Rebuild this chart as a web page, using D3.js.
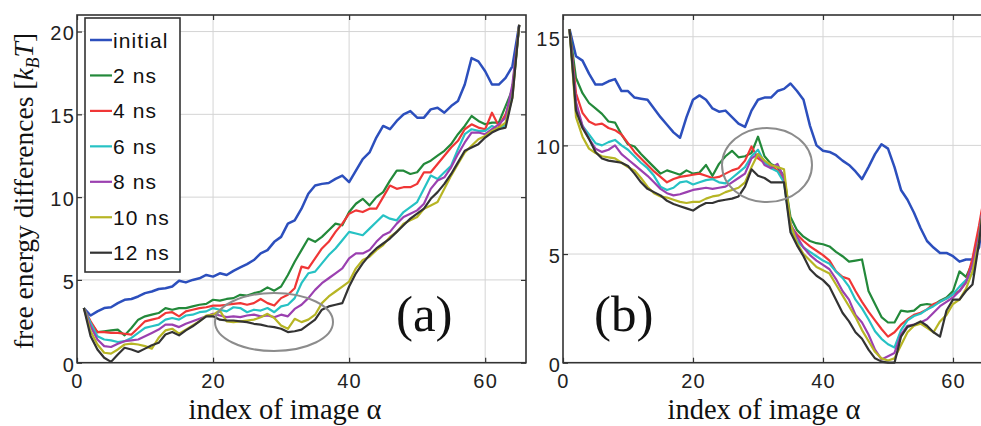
<!DOCTYPE html>
<html>
<head>
<meta charset="utf-8">
<script src="https://cdn.jsdelivr.net/npm/d3@7"></script>
<style>
  html, body { margin: 0; padding: 0; background: #fff; }
  svg { display: block; }
</style>
</head>
<body>
<svg id="chart" width="981" height="426"></svg>
<script>
// ---------------- DATA ----------------
const imageIndex = d3.range(1, 66); // image α = 1..65

const seriesNames = ["initial", "2 ns", "4 ns", "6 ns", "8 ns", "10 ns", "12 ns"];
const seriesColors = ["#2c4fbd", "#23893a", "#f03636", "#26c2c4", "#9b40b0", "#b7b524", "#333333"];

const xTicks = [0, 20, 40, 60];
const yTicksA = [0, 5, 10, 15, 20];
const yTicksB = [0, 5, 10, 15];

// Panel (a)
const aInitial = [3.3,2.85,3.1,3.3,3.35,3.6,3.8,3.85,4.0,4.2,4.3,4.45,4.5,4.6,4.95,4.85,5.0,5.1,5.3,5.2,5.4,5.3,5.55,5.75,5.95,6.2,6.6,6.8,7.3,7.6,8.4,8.6,9.3,10.2,10.7,10.8,10.85,11.1,11.3,10.9,11.6,12.3,12.7,13.6,14.3,14.1,14.6,15.0,15.2,14.8,14.8,15.3,15.4,15.1,15.5,15.8,16.8,18.4,18.2,17.6,16.8,16.8,17.2,17.9,20.4];
const a2ns = [3.3,2.4,1.85,1.9,1.95,2.0,1.65,2.1,2.6,2.8,2.9,3.0,3.3,3.2,3.3,3.3,3.4,3.5,3.55,3.8,3.75,3.85,3.9,4.1,4.05,4.2,4.3,4.55,4.35,4.6,5.3,6.1,6.8,7.5,7.3,7.6,8.0,8.4,8.3,9.1,9.6,9.9,9.5,10.0,10.3,11.0,11.6,11.6,11.4,11.5,12.0,12.2,12.5,12.8,13.2,13.8,14.3,14.9,14.6,14.4,14.5,14.5,15.5,16.5,20.4];
const a4ns = [3.3,2.5,1.85,1.85,1.8,1.8,1.75,1.7,2.1,2.5,2.6,2.7,3.0,3.05,2.8,3.1,3.2,3.3,3.35,3.45,3.45,3.5,3.55,3.6,3.5,3.6,3.85,3.6,3.45,3.9,4.1,4.5,5.8,5.7,6.3,6.9,7.3,7.9,8.4,9.0,9.2,9.1,9.3,9.3,10.0,10.7,10.5,10.6,10.6,10.8,11.5,11.5,12.0,12.5,13.0,13.4,14.1,14.4,14.2,14.1,15.1,14.3,15.0,16.3,20.4];
const a6ns = [3.3,2.4,1.6,1.4,1.35,1.25,1.3,1.5,1.8,2.1,2.2,2.3,2.6,2.7,2.6,2.85,2.9,3.05,3.1,3.3,3.2,3.1,3.35,3.3,3.05,3.2,3.15,3.3,3.05,3.4,3.5,3.9,4.8,5.4,5.5,6.0,6.5,6.9,7.4,7.9,7.8,7.7,8.1,8.5,8.9,8.7,8.6,9.1,9.4,9.7,10.5,11.3,11.1,11.5,11.9,12.9,13.8,14.1,14.0,14.0,14.3,14.1,14.4,16.2,20.4];
const a8ns = [3.3,2.2,1.4,1.0,0.95,1.15,1.3,1.35,1.4,1.6,1.8,2.0,2.3,2.3,2.15,2.35,2.5,2.65,2.8,2.95,2.85,2.75,2.8,2.75,2.85,2.9,2.8,2.85,2.75,2.9,2.8,3.25,3.5,3.9,4.4,4.8,5.1,5.4,5.7,6.3,6.6,6.6,6.8,7.3,7.7,7.9,8.4,8.8,9.0,9.2,9.6,10.5,11.0,11.2,11.8,12.6,13.3,13.9,13.9,13.8,14.1,14.4,14.8,16.8,20.4];
const a10ns = [3.3,1.9,1.1,0.6,0.55,0.8,1.1,1.15,1.1,1.0,0.85,1.5,1.95,2.05,1.75,2.0,2.25,2.5,2.85,2.9,3.15,2.5,2.45,2.5,2.55,2.6,2.75,2.95,2.7,2.25,2.05,2.65,2.45,2.6,2.9,3.6,4.0,4.3,4.6,4.9,5.7,6.2,6.4,6.8,7.1,7.6,7.9,8.4,8.6,8.8,9.3,9.5,9.7,10.5,11.3,12.0,12.7,13.1,13.5,13.7,14.0,14.2,14.5,16.0,20.4];
const a12ns = [3.3,1.6,0.8,0.3,0.05,0.5,0.9,0.8,0.65,0.85,1.05,1.2,1.7,1.85,1.65,1.95,2.2,2.5,2.8,2.8,2.6,2.55,2.55,2.5,2.45,2.35,2.3,2.2,2.15,2.05,1.85,1.9,2.0,2.3,2.6,3.2,3.4,3.5,3.6,4.6,5.4,6.0,6.5,6.9,7.2,7.5,7.9,8.3,8.7,9.0,9.3,9.9,10.3,10.8,11.4,12.1,12.8,13.0,13.2,13.6,13.9,14.1,14.2,16.0,20.4];

// Panel (b)
const bInitial = [15.35,14.1,13.9,13.3,12.8,12.8,12.95,13.05,12.5,12.5,12.2,12.15,12.1,11.7,11.3,10.95,10.6,10.35,11.3,12.1,12.3,12.1,11.7,11.55,11.6,11.3,11.0,10.85,11.6,12.1,12.2,12.2,12.5,12.6,12.85,12.5,12.1,10.9,10.0,9.75,9.7,9.55,9.3,9.1,8.8,8.45,9.0,9.6,10.05,9.85,9.0,7.95,7.5,6.9,6.2,5.6,5.3,5.05,5.05,4.9,4.65,4.75,4.75,5.3,7.5];
const b2ns = [15.35,13.1,12.4,11.95,11.7,11.45,11.1,11.05,10.5,10.05,9.95,9.6,9.3,9.0,8.7,8.85,8.75,8.65,8.85,8.7,8.75,9.1,8.6,9.15,9.5,9.75,9.45,9.5,9.65,10.4,9.5,9.15,9.0,8.6,6.7,6.1,5.8,5.6,5.5,5.45,5.35,5.1,4.9,4.65,4.7,4.75,3.3,2.7,2.1,1.85,1.85,2.4,2.35,2.4,2.65,2.7,2.65,2.85,3.0,3.3,4.2,3.95,4.6,6.0,8.0];
const b4ns = [15.35,12.4,11.5,11.1,10.95,11.0,10.8,10.7,10.5,10.1,9.7,9.4,9.1,8.8,8.55,8.3,8.45,8.55,8.6,8.65,8.7,8.6,8.5,8.55,8.7,8.85,8.95,9.3,9.95,9.4,9.2,9.05,8.85,8.4,6.3,5.9,5.6,5.35,5.15,4.95,4.7,4.2,3.95,3.85,3.3,2.8,2.35,1.95,1.55,1.2,1.4,1.75,2.0,2.2,2.3,2.45,2.7,2.8,2.95,3.15,3.3,3.7,4.8,6.3,8.0];
const b6ns = [15.35,11.7,10.9,10.5,10.1,10.0,10.15,10.25,10.0,9.8,9.5,9.2,8.95,8.6,8.1,7.95,8.05,8.3,8.35,8.2,8.3,8.4,8.45,8.3,8.25,8.5,8.75,9.0,9.5,9.8,9.2,8.95,8.8,8.3,6.2,5.6,5.3,5.1,4.9,4.7,4.55,4.2,3.9,3.5,2.9,2.5,2.0,1.45,1.1,0.85,0.7,1.5,1.95,2.15,2.25,2.45,2.6,2.8,2.95,3.15,3.5,3.8,4.1,5.8,8.0];
const b8ns = [15.35,12.0,10.9,10.3,9.85,9.7,9.8,10.0,9.6,9.35,9.1,8.85,8.6,8.3,8.0,7.8,7.7,7.75,7.85,7.95,8.0,8.05,8.0,8.05,8.1,8.3,8.5,8.7,9.4,9.6,9.1,8.95,9.15,8.5,6.4,5.8,5.3,4.95,4.7,4.5,4.3,3.85,3.3,2.9,2.2,1.85,1.3,0.6,0.15,0.3,0.45,1.3,1.7,1.75,1.85,2.0,2.3,2.6,2.8,3.0,3.3,3.7,4.5,5.8,8.0];
const b10ns = [15.35,11.3,10.4,9.85,9.65,9.5,9.45,9.4,9.2,9.0,8.85,8.5,8.1,7.8,7.65,7.6,7.5,7.4,7.35,7.4,7.4,7.55,7.65,7.7,7.85,7.95,8.05,8.3,9.0,9.6,9.3,9.1,9.0,8.9,6.4,5.5,5.0,4.7,4.4,4.25,4.1,3.6,3.1,2.6,2.1,1.5,1.0,0.5,0.2,0.1,0.2,0.8,1.4,1.7,1.8,1.6,1.4,1.9,2.2,2.7,2.9,3.4,4.2,5.6,8.0];
const b12ns = [15.35,11.6,10.8,10.3,9.7,9.4,9.3,9.25,9.2,9.05,8.7,8.3,8.0,7.85,7.7,7.45,7.3,7.2,7.1,7.0,7.2,7.35,7.35,7.45,7.5,7.55,7.65,8.1,8.9,8.6,8.5,8.3,8.3,8.3,6.0,5.4,4.9,4.3,4.0,3.8,3.5,2.9,2.3,1.9,1.4,1.1,0.6,0.2,0.05,0.0,0.0,1.2,1.65,1.75,1.9,1.7,1.4,1.2,2.4,2.9,2.9,3.3,3.6,5.5,8.0];

const panelASeries = [aInitial, a2ns, a4ns, a6ns, a8ns, a10ns, a12ns];
const panelBSeries = [bInitial, b2ns, b4ns, b6ns, b8ns, b10ns, b12ns];

// ---------------- DRAWING ----------------
const svg = d3.select("#chart");
const SANS = "'Liberation Sans', Arial, Helvetica, sans-serif";
const SERIF = "'Liberation Serif', 'Times New Roman', Times, serif";

function drawPanel(cfg) {
  const x = d3.scaleLinear().domain([0, 66]).range([cfg.left, cfg.right]);
  const y = d3.scaleLinear().domain([0, cfg.ymax]).range([cfg.bottom, cfg.top]);
  const g = svg.append("g");

  // grid
  g.append("g").selectAll("line").data(xTicks.filter(t => t > 0)).join("line")
    .attr("x1", d => x(d)).attr("x2", d => x(d))
    .attr("y1", cfg.top).attr("y2", cfg.bottom)
    .attr("stroke", "#d4d4d4").attr("stroke-width", 1);
  g.append("g").selectAll("line").data(cfg.yTicks.filter(t => t > 0)).join("line")
    .attr("x1", cfg.left).attr("x2", cfg.right)
    .attr("y1", d => y(d)).attr("y2", d => y(d))
    .attr("stroke", "#d4d4d4").attr("stroke-width", 1);

  // axes (inward ticks on all sides)
  const axB = g.append("g").attr("transform", `translate(0,${cfg.bottom})`)
    .call(d3.axisBottom(x).tickValues(xTicks).tickSize(-5).tickPadding(11).tickFormat(d3.format("d")));
  const axT = g.append("g").attr("transform", `translate(0,${cfg.top})`)
    .call(d3.axisTop(x).tickValues(xTicks).tickSize(-5).tickFormat(""));
  const axL = g.append("g").attr("transform", `translate(${cfg.left},0)`)
    .call(d3.axisLeft(y).tickValues(cfg.yTicks).tickSize(-5).tickPadding(2).tickFormat(d3.format("d")));
  const axR = g.append("g").attr("transform", `translate(${cfg.right},0)`)
    .call(d3.axisRight(y).tickValues(cfg.yTicks).tickSize(-5).tickFormat(""));
  [axB, axT, axL, axR].forEach(a => {
    a.select(".domain").remove();
    a.selectAll(".tick line").attr("stroke", "#333").attr("stroke-width", 1.2);
    a.selectAll("text").attr("font-family", SANS).attr("font-size", 20)
      .attr("letter-spacing", 1.2).attr("fill", "#222");
  });
  axL.selectAll("text").attr("dy", "0.42em");

  // series
  const line = d3.line().x((d, i) => x(imageIndex[i])).y(d => y(d));
  cfg.series.forEach((s, k) => {
    g.append("path").datum(s)
      .attr("d", line)
      .attr("fill", "none")
      .attr("stroke", seriesColors[k])
      .attr("stroke-width", k === 0 ? 2.5 : 2.2)
      .attr("stroke-linejoin", "round");
  });

  // frame
  g.append("rect")
    .attr("x", cfg.left).attr("y", cfg.top)
    .attr("width", cfg.right - cfg.left).attr("height", cfg.bottom - cfg.top)
    .attr("fill", "none").attr("stroke", "#333").attr("stroke-width", 1.6);

  // annotation ellipse
  g.append("ellipse")
    .attr("cx", cfg.ell[0]).attr("cy", cfg.ell[1]).attr("rx", cfg.ell[2]).attr("ry", cfg.ell[3])
    .attr("fill", "none").attr("stroke", "#8c8c8c").attr("stroke-width", 2);

  // panel letter
  g.append("text").attr("x", cfg.tag[0]).attr("y", cfg.tag[1])
    .attr("font-family", SERIF).attr("font-size", 51).attr("fill", "#111")
    .text(cfg.tagText);

  // x label
  g.append("text").attr("x", cfg.xlab[0]).attr("y", cfg.xlab[1])
    .attr("text-anchor", "middle")
    .attr("font-family", SERIF).attr("font-size", 28.5).attr("fill", "#111")
    .text("index of image α");
  return {x, y, g};
}

drawPanel({
  left: 77, right: 526, top: 15, bottom: 362.7, ymax: 21, yTicks: yTicksA,
  series: panelASeries, ell: [274, 322, 59, 29], tag: [396, 331], tagText: "(a)",
  xlab: [285, 419]
});
drawPanel({
  left: 563, right: 992, top: 15, bottom: 362.7, ymax: 16, yTicks: yTicksB,
  series: panelBSeries, ell: [767, 165, 45, 37], tag: [594, 331], tagText: "(b)",
  xlab: [764, 419]
});

// y label (panel a)
const yl = svg.append("text")
  .attr("transform", "translate(33,191) rotate(-90)")
  .attr("text-anchor", "middle")
  .attr("font-family", SERIF).attr("font-size", 27.5).attr("fill", "#111");
yl.append("tspan").text("free energy differences [");
yl.append("tspan").attr("font-style", "italic").text("k");
yl.append("tspan").attr("font-style", "italic").attr("font-size", 18).attr("dy", 6).text("B");
yl.append("tspan").attr("font-style", "italic").attr("dy", -6).text("T");
yl.append("tspan").text("]");

// legend (panel a)
const lg = svg.append("g");
lg.append("rect").attr("x", 85).attr("y", 18).attr("width", 95).attr("height", 254)
  .attr("fill", "#fff").attr("stroke", "#333").attr("stroke-width", 1.6);
seriesNames.forEach((name, k) => {
  const cy = 40 + k * 35.45;
  lg.append("line").attr("x1", 90).attr("x2", 112).attr("y1", cy).attr("y2", cy)
    .attr("stroke", seriesColors[k]).attr("stroke-width", k === 0 ? 2.5 : 2.2);
  lg.append("text").attr("x", 113).attr("y", cy).attr("dy", "0.36em")
    .attr("font-family", SANS).attr("font-size", 21).attr("letter-spacing", 1.1).attr("fill", "#111")
    .text(name);
});
</script>
</body>
</html>
